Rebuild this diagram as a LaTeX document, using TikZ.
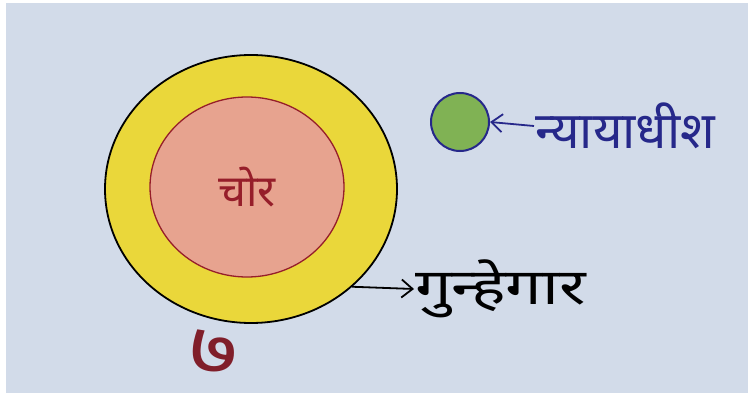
\documentclass[tikz,border=0pt]{standalone}
\usepackage{fontspec}
\newfontfamily\devfont[Script=Devanagari]{Noto Sans}
\newfontfamily\devwide[Script=Devanagari,FakeStretch=1.3]{Noto Sans}
\usetikzlibrary{arrows.meta,shapes.geometric}

\definecolor{paper}{RGB}{210,219,233}
\definecolor{crayonyellow}{RGB}{234,215,58}
\definecolor{salmon}{RGB}{231,163,143}
\definecolor{redink}{RGB}{150,30,42}
\definecolor{leafgreen}{RGB}{128,178,84}
\definecolor{blueink}{RGB}{38,40,138}
\definecolor{maroon}{RGB}{128,30,42}

\begin{document}
\begin{tikzpicture}[
    x=1pt, y=-1pt,
    every node/.style={font=\devfont},
    ring/.style={ellipse, inner sep=0pt, draw=black, line width=1.8pt, fill=crayonyellow, minimum width=292pt, minimum height=268pt},
    core/.style={ellipse, inner sep=0pt, draw=redink, line width=1.3pt, fill=salmon, minimum width=194pt, minimum height=180pt, text=redink, font=\devfont\fontsize{44}{50}\selectfont},
    judge/.style={circle, inner sep=0pt, draw=blueink, line width=2pt, fill=leafgreen, minimum size=58pt},
    blueword/.style={anchor=west, inner sep=1pt, text=blueink, font=\devfont\fontsize{51}{58}\selectfont},
    blackword/.style={anchor=west, inner sep=1pt, text=black, font=\devwide\fontsize{50}{56}\selectfont},
    numeral/.style={anchor=base, inner sep=0pt, text=maroon, font=\devwide\bfseries\fontsize{72}{78}\selectfont},
    flow/.style={-{Straight Barb[length=11pt,width=18pt]}, line width=1.8pt}
  ]
    \useasboundingbox (0,0) rectangle (748,396);
    \fill[white] (0,0) rectangle (748,396);
    \fill[paper] (6,3) rectangle (748,393);

    \node[ring] (gunhegarring) at (251,189) {};
    \node[core] (chor) at (247,187) {चोर};
    \node[judge] (nyaya) at (460,122) {};

    \node[blueword] (nyayaword) at (534,126) {न्यायाधीश};
    \node[blackword] (gunhegarword) at (414,289) {गुन्हेगार};
    \node[numeral] (saat) at (214,374) {७};

    \draw[flow, draw=blueink] (nyayaword.west) -- (nyaya.east);
    \draw[flow] (gunhegarring.-44) -- (gunhegarword.west);
  \end{tikzpicture}
\end{document}
